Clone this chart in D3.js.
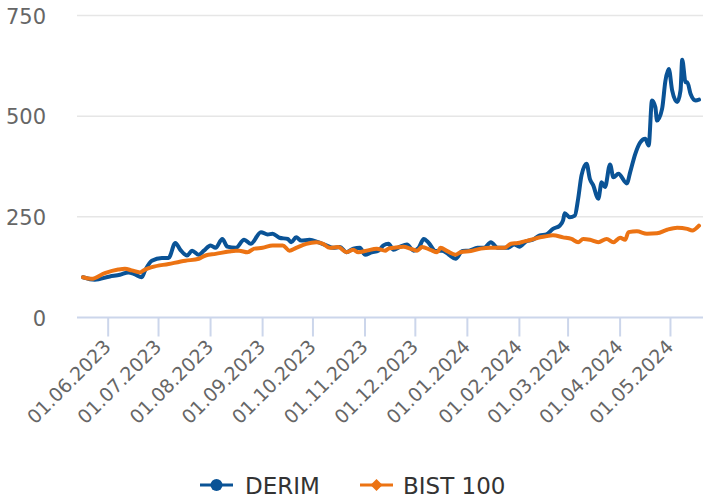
<!DOCTYPE html>
<html>
<head>
<meta charset="utf-8">
<script src="https://cdn.jsdelivr.net/npm/d3@7"></script>
<style>
  html, body { margin: 0; padding: 0; background: #fff; }
  svg { display: block; }
</style>
</head>
<body>
<svg id="chart" width="703" height="499"></svg>
<script>
const derimDates = ["2023-05-17","2023-05-24","2023-06-02","2023-06-08","2023-06-13","2023-06-17","2023-06-21","2023-06-23","2023-06-27","2023-07-03","2023-07-07","2023-07-11","2023-07-14","2023-07-18","2023-07-21","2023-07-25","2023-07-28","2023-08-01","2023-08-04","2023-08-08","2023-08-11","2023-08-16","2023-08-21","2023-08-25","2023-08-31","2023-09-04","2023-09-07","2023-09-11","2023-09-16","2023-09-18","2023-09-21","2023-09-24","2023-09-29","2023-10-04","2023-10-09","2023-10-13","2023-10-17","2023-10-21","2023-10-25","2023-10-29","2023-11-01","2023-11-05","2023-11-09","2023-11-12","2023-11-15","2023-11-18","2023-11-22","2023-11-26","2023-11-30","2023-12-03","2023-12-06","2023-12-09","2023-12-13","2023-12-17","2023-12-21","2023-12-25","2023-12-29","2024-01-02","2024-01-07","2024-01-11","2024-01-15","2024-01-19","2024-01-25","2024-01-29","2024-02-01","2024-02-05","2024-02-09","2024-02-13","2024-02-17","2024-02-21","2024-02-25","2024-02-27","2024-02-28","2024-03-02","2024-03-05","2024-03-07","2024-03-09","2024-03-12","2024-03-14","2024-03-16","2024-03-19","2024-03-21","2024-03-23","2024-03-26","2024-03-28","2024-03-31","2024-04-05","2024-04-07","2024-04-10","2024-04-13","2024-04-16","2024-04-18","2024-04-20","2024-04-22","2024-04-23","2024-04-26","2024-04-28","2024-04-30","2024-05-02","2024-05-05","2024-05-07","2024-05-08","2024-05-10","2024-05-11","2024-05-13","2024-05-16","2024-05-18"];
const derimValues = [100,94,102,106,112,107,100,117,141,148,148,185,168,154,166,156,166,179,173,195,176,173,193,183,212,206,208,198,195,187,199,191,193,187,179,173,175,162,171,173,156,162,166,179,183,168,176,181,166,173,195,185,165,166,156,146,165,166,173,173,187,173,173,181,176,189,193,204,206,220,228,241,259,249,253,295,353,382,344,328,295,336,324,380,348,357,333,361,406,435,444,427,539,522,489,518,588,617,564,535,564,640,584,584,555,539,541];

const bistDates = ["2023-05-17","2023-05-22","2023-05-30","2023-06-07","2023-06-11","2023-06-15","2023-06-20","2023-06-22","2023-06-27","2023-07-07","2023-07-17","2023-07-25","2023-07-29","2023-08-04","2023-08-12","2023-08-16","2023-08-18","2023-08-23","2023-08-27","2023-09-01","2023-09-07","2023-09-13","2023-09-17","2023-09-21","2023-09-27","2023-10-03","2023-10-07","2023-10-11","2023-10-16","2023-10-21","2023-10-25","2023-10-28","2023-11-02","2023-11-08","2023-11-13","2023-11-15","2023-11-18","2023-11-24","2023-11-28","2023-12-02","2023-12-05","2023-12-10","2023-12-14","2023-12-16","2023-12-20","2023-12-25","2023-12-28","2024-01-03","2024-01-09","2024-01-15","2024-01-23","2024-01-27","2024-01-31","2024-02-04","2024-02-08","2024-02-12","2024-02-16","2024-02-21","2024-02-27","2024-03-03","2024-03-07","2024-03-10","2024-03-14","2024-03-19","2024-03-24","2024-03-28","2024-04-01","2024-04-04","2024-04-06","2024-04-11","2024-04-17","2024-04-23","2024-04-29","2024-05-05","2024-05-11","2024-05-14","2024-05-18"];
const bistValues = [100,96,110,119,121,117,112,117,125,133,141,146,154,158,164,166,166,162,171,173,179,179,166,173,183,187,183,173,175,162,168,162,166,171,166,171,173,176,171,166,175,168,162,173,165,156,162,165,171,173,173,183,185,189,193,198,201,204,199,195,187,195,193,187,195,187,198,193,212,214,208,209,218,223,220,216,228];

const yTicks = [0, 250, 500, 750];
const xTickDates = ["2023-06-01","2023-07-01","2023-08-01","2023-09-01","2023-10-01","2023-11-01","2023-12-01","2024-01-01","2024-02-01","2024-03-01","2024-04-01","2024-05-01"];
const seriesNames = ["DERIM", "BIST 100"];
const seriesColors = ["#0a5396", "#ec7313"];

const parse = d3.utcParse("%Y-%m-%d");
const fmt = d3.utcFormat("%d.%m.%Y");

const derim = derimDates.map((d, i) => ({ date: parse(d), value: derimValues[i] }));
const bist = bistDates.map((d, i) => ({ date: parse(d), value: bistValues[i] }));

const plotLeft = 77, plotRight = 703;
const x = d3.scaleUtc()
  .domain([parse(derimDates[0]), parse(derimDates[derimDates.length - 1])])
  .range([83, 699]);
const y = d3.scaleLinear().domain([0, 750]).range([317.5, 15.5]);

const svg = d3.select("#chart");
const font = "'DejaVu Sans', sans-serif";

// gridlines
svg.append("g").selectAll("line")
  .data(yTicks.filter(t => t > 0))
  .join("line")
  .attr("x1", plotLeft).attr("x2", plotRight)
  .attr("y1", d => y(d)).attr("y2", d => y(d))
  .attr("stroke", "#e6e6e6").attr("stroke-width", 1.5);

// y labels
svg.append("g").selectAll("text")
  .data(yTicks)
  .join("text")
  .attr("x", 46).attr("y", d => y(d) + 8)
  .attr("text-anchor", "end")
  .attr("font-family", font).attr("font-size", 21)
  .attr("fill", "#666")
  .text(d => d);

// x axis line
svg.append("line")
  .attr("x1", plotLeft).attr("x2", plotRight)
  .attr("y1", y(0)).attr("y2", y(0))
  .attr("stroke", "#ccd6eb").attr("stroke-width", 2);

const xt = xTickDates.map(parse);
svg.append("g").selectAll("line")
  .data(xt)
  .join("line")
  .attr("x1", d => x(d)).attr("x2", d => x(d))
  .attr("y1", y(0)).attr("y2", y(0) + 19)
  .attr("stroke", "#ccd6eb").attr("stroke-width", 2);

svg.append("g").selectAll("text")
  .data(xt)
  .join("text")
  .attr("text-anchor", "end")
  .attr("transform", d => `translate(${x(d) + 4},348) rotate(-45)`)
  .attr("font-family", font).attr("font-size", 19)
  .attr("fill", "#666")
  .text(d => fmt(d));

// lines
const line = d3.line()
  .x(d => x(d.date)).y(d => y(d.value))
  .curve(d3.curveMonotoneX);

[derim, bist].forEach((s, i) => {
  svg.append("path")
    .datum(s)
    .attr("d", line)
    .attr("fill", "none")
    .attr("stroke", seriesColors[i])
    .attr("stroke-width", 4)
    .attr("stroke-linejoin", "round")
    .attr("stroke-linecap", "round");
});

// legend
const legendItems = [
  { name: seriesNames[0], color: seriesColors[0], lx: 200, tx: 245, shape: "circle" },
  { name: seriesNames[1], color: seriesColors[1], lx: 360, tx: 403, shape: "diamond" }
];
const ly = 485;
legendItems.forEach(it => {
  const g = svg.append("g");
  g.append("line")
    .attr("x1", it.lx).attr("x2", it.lx + 33)
    .attr("y1", ly).attr("y2", ly)
    .attr("stroke", it.color).attr("stroke-width", 3);
  if (it.shape === "circle") {
    g.append("circle").attr("cx", it.lx + 16.5).attr("cy", ly).attr("r", 6).attr("fill", it.color);
  } else {
    const cx = it.lx + 16.5;
    g.append("path")
      .attr("d", `M${cx},${ly - 6}L${cx + 6},${ly}L${cx},${ly + 6}L${cx - 6},${ly}Z`)
      .attr("fill", it.color);
  }
  g.append("text")
    .attr("x", it.tx).attr("y", 494)
    .attr("font-family", font).attr("font-size", 23)
    .attr("fill", "#333")
    .text(it.name);
});
</script>
</body>
</html>
